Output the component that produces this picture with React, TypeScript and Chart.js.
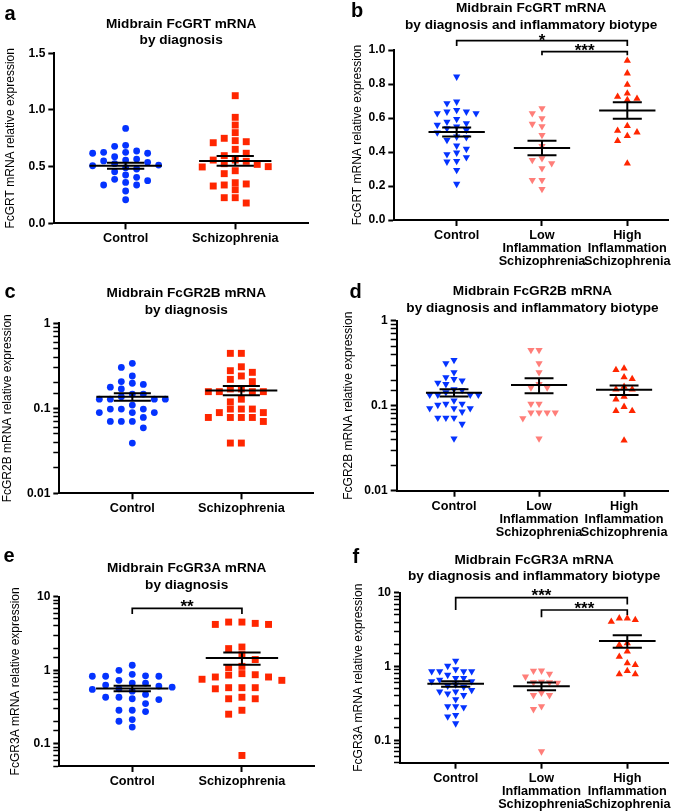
import React, { useEffect, useRef } from 'react';
import { Chart, registerables } from 'chart.js';

Chart.register(...registerables);

const FONT = "'Liberation Sans', Arial, Helvetica, sans-serif";
Chart.defaults.font.family = FONT;
Chart.defaults.color = '#000';

const BLUE = '#0433FF';
const RED = '#FF2600';
const SALMON = '#FF7E79';

// ---------- categories ----------
const dxCategories: (string | string[])[] = ['Control', 'Schizophrenia'];
const bioCategories: (string | string[])[] = [
  'Control',
  ['Low', 'Inflammation', 'Schizophrenia'],
  ['High', 'Inflammation', 'Schizophrenia'],
];

// ---------- tick labels ----------
const fcgrtDxYTicks = [0, 0.5, 1.0, 1.5];
const fcgrtBioYTicks = [0, 0.2, 0.4, 0.6, 0.8, 1.0];
const fcgr2bYTicks = [0.01, 0.1, 1];
const fcgr3aYTicks = [0.1, 1, 10];
const fcgr3aYMin = 0.05;

// ---------- panel a: FcGRT by diagnosis ----------
const fcgrtDxControl = [0.837, 0.688, 0.679, 0.638, 0.626, 0.626, 0.618, 0.618, 0.588, 0.567, 0.558, 0.55, 0.538, 0.526, 0.514, 0.508, 0.49, 0.479, 0.455, 0.426, 0.406, 0.388, 0.376, 0.361, 0.338, 0.338, 0.285, 0.208];
const fcgrtDxSchizophrenia = [1.126, 0.935, 0.867, 0.8, 0.75, 0.729, 0.72, 0.711, 0.653, 0.618, 0.597, 0.558, 0.558, 0.547, 0.526, 0.52, 0.5, 0.497, 0.464, 0.438, 0.358, 0.347, 0.338, 0.329, 0.296, 0.226, 0.226, 0.179];

// ---------- panel b: FcGRT by biotype ----------
const fcgrtBioControl = [0.843, 0.696, 0.686, 0.647, 0.637, 0.637, 0.627, 0.627, 0.594, 0.578, 0.569, 0.559, 0.549, 0.539, 0.529, 0.514, 0.49, 0.486, 0.47, 0.437, 0.418, 0.396, 0.386, 0.369, 0.347, 0.343, 0.294, 0.212];
const fcgrtBioLow = [0.657, 0.627, 0.598, 0.565, 0.551, 0.5, 0.435, 0.363, 0.353, 0.333, 0.304, 0.235, 0.235, 0.182];
const fcgrtBioHigh = [0.937, 0.863, 0.796, 0.745, 0.725, 0.714, 0.706, 0.553, 0.525, 0.516, 0.494, 0.465, 0.333];
const fcgrtBioSig = [
  { from: 0, to: 2, label: '*' },
  { from: 1, to: 2, label: '***' },
];

// ---------- panel c: FcGR2B by diagnosis ----------
const fcgr2bDxControl = [0.338, 0.303, 0.24, 0.206, 0.197, 0.191, 0.177, 0.169, 0.147, 0.147, 0.137, 0.128, 0.128, 0.128, 0.128, 0.109, 0.098, 0.098, 0.098, 0.089, 0.089, 0.089, 0.078, 0.07, 0.07, 0.07, 0.059, 0.039];
const fcgr2bDxSchizophrenia = [0.443, 0.443, 0.308, 0.277, 0.265, 0.24, 0.219, 0.206, 0.169, 0.169, 0.157, 0.157, 0.157, 0.157, 0.128, 0.119, 0.098, 0.098, 0.098, 0.089, 0.089, 0.078, 0.078, 0.078, 0.078, 0.07, 0.039, 0.039];

// ---------- panel d: FcGR2B by biotype ----------
const fcgr2bBioControl = [0.345, 0.316, 0.247, 0.216, 0.206, 0.197, 0.186, 0.179, 0.156, 0.153, 0.144, 0.134, 0.134, 0.134, 0.134, 0.115, 0.105, 0.105, 0.102, 0.093, 0.093, 0.093, 0.085, 0.072, 0.072, 0.072, 0.061, 0.041];
const fcgr2bBioLow = [0.452, 0.452, 0.316, 0.247, 0.179, 0.163, 0.163, 0.105, 0.105, 0.083, 0.083, 0.083, 0.083, 0.071, 0.041];
const fcgr2bBioHigh = [0.275, 0.263, 0.216, 0.206, 0.167, 0.156, 0.156, 0.128, 0.119, 0.097, 0.087, 0.087, 0.039];

// ---------- panel e: FcGR3A by diagnosis ----------
const fcgr3aDxControl = [1.17, 1.0, 0.88, 0.84, 0.83, 0.83, 0.83, 0.73, 0.67, 0.67, 0.63, 0.61, 0.59, 0.56, 0.55, 0.52, 0.47, 0.43, 0.43, 0.41, 0.4, 0.353, 0.286, 0.286, 0.275, 0.214, 0.203, 0.169];
const fcgr3aDxSchizophrenia = [4.52, 4.52, 4.34, 4.2, 4.2, 2.07, 1.97, 1.63, 1.4, 1.13, 1.09, 0.9, 0.87, 0.86, 0.81, 0.81, 0.755, 0.73, 0.58, 0.58, 0.58, 0.56, 0.43, 0.41, 0.41, 0.286, 0.253, 0.0695];
const fcgr3aDxSig = [{ from: 0, to: 1, label: '**' }];

// ---------- panel f: FcGR3A by biotype ----------
const fcgr3aBioControl = [1.2, 1.02, 0.92, 0.86, 0.86, 0.86, 0.86, 0.77, 0.7, 0.7, 0.66, 0.63, 0.63, 0.57, 0.55, 0.53, 0.48, 0.46, 0.46, 0.43, 0.41, 0.36, 0.29, 0.29, 0.28, 0.22, 0.21, 0.17];
const fcgr3aBioLow = [0.88, 0.875, 0.8, 0.73, 0.62, 0.61, 0.61, 0.6, 0.44, 0.41, 0.41, 0.29, 0.265, 0.071];
const fcgr3aBioHigh = [4.5, 4.5, 4.28, 4.05, 2.07, 1.96, 1.6, 1.36, 1.11, 1.05, 0.875, 0.79, 0.79];
const fcgr3aBioSig = [
  { from: 0, to: 2, label: '***' },
  { from: 1, to: 2, label: '***' },
];

// ---------- helpers ----------
type Sig = { from: number; to: number; label: string };
type SigGeo = { dy: number; legL: number; legR: number; textDy: number };

function isPow10(v: number) {
  const l = Math.log10(v);
  return Math.abs(l - Math.round(l)) < 1e-6;
}

function meanSem(vals: number[]) {
  const n = vals.length;
  const m = vals.reduce((a, b) => a + b, 0) / n;
  const sd = Math.sqrt(vals.reduce((a, b) => a + (b - m) * (b - m), 0) / (n - 1));
  return { m, se: sd / Math.sqrt(n) };
}

function errorBarPoints(groups: number[][], meanHalf = 0.33, capHalf = 0.17) {
  const pts: { x: number; y: number | null }[] = [];
  groups.forEach((vals, i) => {
    const { m, se } = meanSem(vals);
    pts.push(
      { x: i - meanHalf, y: m }, { x: i + meanHalf, y: m }, { x: i, y: null },
      { x: i - capHalf, y: m + se }, { x: i + capHalf, y: m + se }, { x: i, y: null },
      { x: i - capHalf, y: m - se }, { x: i + capHalf, y: m - se }, { x: i, y: null },
      { x: i, y: m - se }, { x: i, y: m + se }, { x: i, y: null },
    );
  });
  return pts;
}

// column-based beeswarm in pixel space
function swarmOffsets(pys: number[], spacing: number, hSep: number): number[] {
  const n = pys.length;
  const order = pys.map((_, i) => i).sort((a, b) => pys[a] - pys[b]);
  const cols: number[] = new Array(n).fill(0);
  const placed: number[] = [];
  for (const i of order) {
    const py = pys[i];
    const clash = (c: number) => placed.some((j) => cols[j] === c && Math.abs(pys[j] - py) < hSep);
    let chosen = 0;
    if (clash(0)) {
      for (let k = 1; k < 40; k++) {
        const cand = [-k, k].filter((c) => !clash(c));
        if (cand.length === 0) continue;
        if (cand.length === 1) { chosen = cand[0]; break; }
        const near = (s: number) =>
          placed.filter((j) => Math.sign(cols[j]) === s && Math.abs(pys[j] - py) < hSep * 1.6).length;
        chosen = near(-1) <= near(1) ? -k : k;
        break;
      }
    }
    cols[i] = chosen;
    placed.push(i);
  }
  return cols.map((c) => c * spacing);
}

function bracketPlugin(sig: Sig[], geo: SigGeo[]) {
  return {
    id: 'sigBrackets',
    afterDraw(chart: any) {
      const { ctx, chartArea } = chart;
      const x = chart.scales.x;
      ctx.save();
      ctx.strokeStyle = '#000';
      ctx.fillStyle = '#000';
      ctx.lineWidth = 1.7;
      ctx.font = `bold 17px ${FONT}`;
      ctx.textAlign = 'center';
      ctx.textBaseline = 'alphabetic';
      sig.forEach((s, i) => {
        const g = geo[i];
        const x1 = x.getPixelForValue(s.from);
        const x2 = x.getPixelForValue(s.to);
        const y = chartArea.top + g.dy;
        ctx.beginPath();
        ctx.moveTo(x1, y + g.legL);
        ctx.lineTo(x1, y);
        ctx.lineTo(x2, y);
        ctx.lineTo(x2, y + g.legR);
        ctx.stroke();
        ctx.fillText(s.label, (x1 + x2) / 2, y + g.textDy + 9.6);
      });
      ctx.restore();
    },
  };
}

type PanelCfg = {
  letter: string;
  letterPos: [number, number];
  left: number; top: number; w: number; h: number;
  area: { left: number; top: number; right: number; bottom: number };
  title: string[];
  titleCenter: number;
  yTitle: string;
  yTitlePad: number;
  yType: 'linear' | 'logarithmic';
  yTicks: number[];
  yMin?: number;
  cats: (string | string[])[];
  xRange: [number, number];
  groups: number[][];
  colors: string[];
  styles: string[];
  rotations: number[];
  radii: number[];
  spacing: number;
  hSep: number;
  sig: Sig[];
  sigGeo: SigGeo[];
};

const TITLE_LH = 16.5;
const TITLE_SIZE = 13.6;

function Panel({ cfg }: { cfg: PanelCfg }) {
  const ref = useRef<HTMLCanvasElement>(null);
  useEffect(() => {
    const canvas = ref.current!;
    const padTop = Math.max(0, cfg.titleCenter - TITLE_LH / 2);
    const padBottom = cfg.area.top - padTop - TITLE_LH * cfg.title.length;
    const isLog = cfg.yType === 'logarithmic';
    const yMin = cfg.yMin ?? cfg.yTicks[0];
    const yMax = cfg.yTicks[cfg.yTicks.length - 1];

    const yScale: any = {
      type: cfg.yType,
      min: yMin,
      max: yMax,
      afterFit: (s: any) => { s.width = cfg.area.left; },
      border: { display: true, color: '#000', width: 2 },
      grid: {
        display: true,
        drawOnChartArea: false,
        drawTicks: true,
        tickLength: 6,
        color: '#000',
        tickColor: '#000',
        tickWidth: (c: any) => (isLog && c.tick && !isPow10(c.tick.value) ? 1.5 : 2),
      },
      ticks: {
        autoSkip: false,
        color: '#000',
        padding: 3,
        font: { family: FONT, size: 12, weight: 'bold' },
        callback: (v: number) => {
          if (isLog) return cfg.yTicks.some((t) => Math.abs(t - v) / t < 1e-6) ? String(v) : '';
          return Number(v).toFixed(1);
        },
      },
      title: {
        display: true,
        text: cfg.yTitle,
        color: '#000',
        font: { family: FONT, size: 12, weight: 'normal', lineHeight: 1.2 },
        padding: { top: cfg.yTitlePad, bottom: 0 },
      },
    };
    if (!isLog) {
      yScale.afterBuildTicks = (s: any) => { s.ticks = cfg.yTicks.map((v) => ({ value: v })); };
    }

    const chart = new Chart(canvas, {
      type: 'scatter',
      data: {
        datasets: [
          {
            type: 'line',
            data: errorBarPoints(cfg.groups) as any,
            borderColor: '#000',
            borderWidth: 2,
            pointRadius: 0,
            showLine: true,
            spanGaps: false,
            tension: 0,
            order: 0,
            clip: false,
          } as any,
          ...cfg.groups.map((g, i) => ({
            data: g.map((v) => ({ x: i, y: v })),
            pointStyle: cfg.styles[i],
            pointRotation: cfg.rotations[i],
            pointRadius: cfg.radii[i],
            pointBackgroundColor: cfg.colors[i],
            pointBorderColor: cfg.colors[i],
            pointBorderWidth: 0,
            backgroundColor: cfg.colors[i],
            borderColor: cfg.colors[i],
            order: 1,
            clip: false,
          })) as any,
        ],
      },
      options: {
        animation: false,
        responsive: false,
        events: [],
        layout: { padding: { top: 0, left: 0, right: cfg.w - cfg.area.right, bottom: 0 } },
        plugins: {
          legend: { display: false },
          tooltip: { enabled: false },
          title: {
            display: true,
            text: cfg.title,
            fullSize: false,
            align: 'center',
            color: '#000',
            font: { family: FONT, size: TITLE_SIZE, weight: 'bold', lineHeight: TITLE_LH / TITLE_SIZE },
            padding: { top: padTop, bottom: padBottom },
          },
        },
        scales: {
          x: {
            type: 'linear',
            min: cfg.xRange[0],
            max: cfg.xRange[1],
            afterBuildTicks: (s: any) => { s.ticks = cfg.cats.map((_, i) => ({ value: i })); },
            afterFit: (s: any) => { s.height = cfg.h - cfg.area.bottom; },
            border: { display: true, color: '#000', width: 2 },
            grid: {
              display: true,
              drawOnChartArea: false,
              drawTicks: true,
              tickLength: 6,
              color: '#000',
              tickColor: '#000',
              tickWidth: 2,
            },
            ticks: {
              autoSkip: false,
              maxRotation: 0,
              color: '#000',
              padding: 3,
              font: { family: FONT, size: 12.7, weight: 'bold', lineHeight: 1.03 },
              callback: (v: number) => cfg.cats[Math.round(v)] ?? '',
            },
          },
          y: yScale,
        },
      } as any,
      plugins: [bracketPlugin(cfg.sig, cfg.sigGeo)],
    });

    // beeswarm arrangement from the library's own scales
    const xs: any = chart.scales.x;
    const ys: any = chart.scales.y;
    const unit = xs.getPixelForValue(1) - xs.getPixelForValue(0);
    cfg.groups.forEach((g, gi) => {
      const pys = g.map((v) => ys.getPixelForValue(v));
      const offs = swarmOffsets(pys, cfg.spacing, cfg.hSep);
      chart.data.datasets[gi + 1].data = g.map((v, i) => ({ x: gi + offs[i] / unit, y: v })) as any;
    });
    chart.update('none');

    return () => chart.destroy();
  }, []);

  return (
    <>
      <canvas
        ref={ref}
        width={cfg.w}
        height={cfg.h}
        style={{ position: 'absolute', left: cfg.left, top: cfg.top, width: cfg.w, height: cfg.h }}
      />
      <div
        style={{
          position: 'absolute',
          left: cfg.letterPos[0],
          top: cfg.letterPos[1],
          font: `bold 20px ${FONT}`,
          lineHeight: '20px',
          color: '#000',
        }}
      >
        {cfg.letter}
      </div>
    </>
  );
}

const panels: PanelCfg[] = [
  {
    letter: 'a', letterPos: [4.5, 2.5], left: 0, top: 0, w: 340, h: 270,
    area: { left: 54.3, top: 53.3, right: 308, bottom: 223.3 },
    title: ['Midbrain FcGRT mRNA', 'by diagnosis'], titleCenter: 24,
    yTitle: 'FcGRT mRNA relative expression', yTitlePad: 3.8,
    yType: 'linear', yTicks: fcgrtDxYTicks,
    cats: dxCategories, xRange: [-0.651, 1.664],
    groups: [fcgrtDxControl, fcgrtDxSchizophrenia],
    colors: [BLUE, RED], styles: ['circle', 'rect'], rotations: [0, 0], radii: [3.4, 4.9],
    spacing: 11, hSep: 7, sig: [], sigGeo: [],
  },
  {
    letter: 'b', letterPos: [351, 0], left: 340, top: 0, w: 345, h: 270,
    area: { left: 54.3, top: 50, right: 328, bottom: 220 },
    title: ['Midbrain FcGRT mRNA', 'by diagnosis and inflammatory biotype'], titleCenter: 7.5,
    yTitle: 'FcGRT mRNA relative expression', yTitlePad: 10.7,
    yType: 'linear', yTicks: fcgrtBioYTicks,
    cats: bioCategories, xRange: [-0.731, 2.477],
    groups: [fcgrtBioControl, fcgrtBioLow, fcgrtBioHigh],
    colors: [BLUE, SALMON, RED], styles: ['triangle', 'triangle', 'triangle'], rotations: [180, 180, 0],
    radii: [4.2, 4.2, 4.2], spacing: 9.7, hSep: 6.5,
    sig: fcgrtBioSig,
    sigGeo: [
      { dy: -9.3, legL: 5.3, legR: 5.3, textDy: -4 },
      { dy: 1.7, legL: 3.5, legR: 3.5, textDy: -5.7 },
    ],
  },
  {
    letter: 'c', letterPos: [4.5, 281], left: 0, top: 270, w: 340, h: 270,
    area: { left: 59.3, top: 53.3, right: 313.3, bottom: 223.3 },
    title: ['Midbrain FcGR2B mRNA', 'by diagnosis'], titleCenter: 23.3,
    yTitle: 'FcGR2B mRNA relative expression', yTitlePad: 0.7,
    yType: 'logarithmic', yTicks: fcgr2bYTicks,
    cats: dxCategories, xRange: [-0.67, 1.66],
    groups: [fcgr2bDxControl, fcgr2bDxSchizophrenia],
    colors: [BLUE, RED], styles: ['circle', 'rect'], rotations: [0, 0], radii: [3.4, 4.9],
    spacing: 11, hSep: 7, sig: [], sigGeo: [],
  },
  {
    letter: 'd', letterPos: [349.5, 281], left: 340, top: 270, w: 345, h: 270,
    area: { left: 56.7, top: 50.7, right: 328.3, bottom: 220.7 },
    title: ['Midbrain FcGR2B mRNA', 'by diagnosis and inflammatory biotype'], titleCenter: 21.7,
    yTitle: 'FcGR2B mRNA relative expression', yTitlePad: 1.3,
    yType: 'logarithmic', yTicks: fcgr2bYTicks,
    cats: bioCategories, xRange: [-0.674, 2.52],
    groups: [fcgr2bBioControl, fcgr2bBioLow, fcgr2bBioHigh],
    colors: [BLUE, SALMON, RED], styles: ['triangle', 'triangle', 'triangle'], rotations: [180, 180, 0],
    radii: [4.2, 4.2, 4.2], spacing: 8.1, hSep: 6.5, sig: [], sigGeo: [],
  },
  {
    letter: 'e', letterPos: [3.5, 545], left: 0, top: 540, w: 340, h: 272,
    area: { left: 59.3, top: 56.7, right: 314, bottom: 226 },
    title: ['Midbrain FcGR3A mRNA', 'by diagnosis'], titleCenter: 28.3,
    yTitle: 'FcGR3A mRNA relative expression', yTitlePad: 8.8,
    yType: 'logarithmic', yTicks: fcgr3aYTicks, yMin: fcgr3aYMin,
    cats: dxCategories, xRange: [-0.665, 1.657],
    groups: [fcgr3aDxControl, fcgr3aDxSchizophrenia],
    colors: [BLUE, RED], styles: ['circle', 'rect'], rotations: [0, 0], radii: [3.4, 4.9],
    spacing: 13.3, hSep: 7,
    sig: fcgr3aDxSig,
    sigGeo: [{ dy: 11.6, legL: 5.7, legR: 5.7, textDy: -5.6 }],
  },
  {
    letter: 'f', letterPos: [352.5, 546], left: 340, top: 540, w: 345, h: 272,
    area: { left: 60, top: 52.7, right: 328.3, bottom: 222.7 },
    title: ['Midbrain FcGR3A mRNA', 'by diagnosis and inflammatory biotype'], titleCenter: 20,
    yTitle: 'FcGR3A mRNA relative expression', yTitlePad: 11.3,
    yType: 'logarithmic', yTicks: fcgr3aYTicks, yMin: fcgr3aYMin,
    cats: bioCategories, xRange: [-0.649, 2.478],
    groups: [fcgr3aBioControl, fcgr3aBioLow, fcgr3aBioHigh],
    colors: [BLUE, SALMON, RED], styles: ['triangle', 'triangle', 'triangle'], rotations: [180, 180, 0],
    radii: [4.2, 4.2, 4.2], spacing: 8, hSep: 6.5,
    sig: fcgr3aBioSig,
    sigGeo: [
      { dy: 5, legL: 12.4, legR: 6.7, textDy: -6 },
      { dy: 17.3, legL: 7.3, legR: 5, textDy: -5.7 },
    ],
  },
];

export default function App() {
  return (
    <div style={{ position: 'fixed', left: 0, top: 0, width: 685, height: 812, background: '#fff', overflow: 'hidden' }}>
      {panels.map((p) => (
        <Panel key={p.letter} cfg={p} />
      ))}
    </div>
  );
}
